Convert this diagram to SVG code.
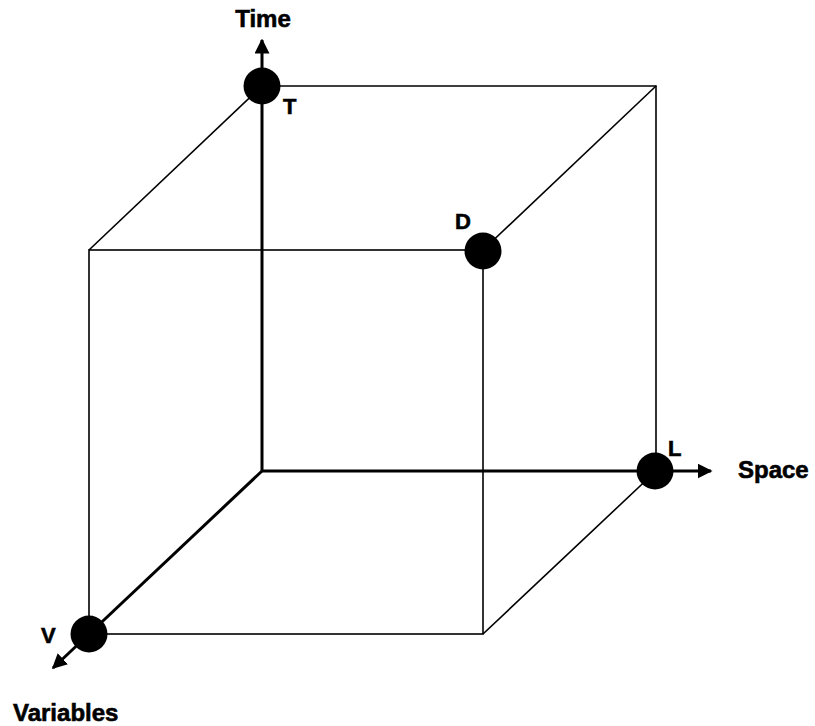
<svg xmlns="http://www.w3.org/2000/svg" width="815" height="726" viewBox="0 0 815 726">
<defs>
<style>
.thin{stroke:#000;stroke-width:1.6;fill:none}
.thick{stroke:#000;stroke-width:3;fill:none}
.node{fill:#000}
.lbl{font-family:"Liberation Sans",Arial,sans-serif;font-weight:bold;font-size:24px;fill:#000;stroke:#000;stroke-width:0.6}
.pt{font-size:22px}
</style>
<marker id="arr" viewBox="0 0 10 10" refX="9" refY="5" markerWidth="5" markerHeight="5" orient="auto" markerUnits="strokeWidth">
<path d="M0,0 L10,5 L0,10 z" fill="#000"/>
</marker>
</defs>
<rect width="815" height="726" fill="#fff"/>
<g id="connectors">
<polyline class="thin" points="262,86 656,86 656,471"/>
<rect class="thin" x="89" y="250" width="394" height="384"/>
<line class="thin" x1="262" y1="86" x2="89" y2="250"/>
<line class="thin" x1="656" y1="86" x2="483" y2="250"/>
<line class="thin" x1="656" y1="471" x2="483" y2="634"/>
<line class="thick" x1="262" y1="471" x2="262" y2="40" marker-end="url(#arr)"/>
<line class="thick" x1="262" y1="471" x2="711" y2="471" marker-end="url(#arr)"/>
<line class="thick" x1="262" y1="471" x2="53" y2="668" marker-end="url(#arr)"/>
</g>
<g id="axis-time"><text class="lbl" x="263" y="27" text-anchor="middle">Time</text></g>
<g id="axis-space"><text class="lbl" x="738" y="478">Space</text></g>
<g id="axis-variables"><text class="lbl" x="13" y="721">Variables</text></g>
<g id="node-T"><circle class="node" cx="262" cy="86" r="18.5"/><text class="lbl pt" x="283" y="114">T</text></g>
<g id="node-D"><circle class="node" cx="483" cy="251" r="18.5"/><text class="lbl pt" x="455" y="229">D</text></g>
<g id="node-L"><circle class="node" cx="655" cy="471" r="18.5"/><text class="lbl pt" x="668" y="456">L</text></g>
<g id="node-V"><circle class="node" cx="89" cy="634" r="18.5"/><text class="lbl pt" x="41" y="643">V</text></g>
</svg>
